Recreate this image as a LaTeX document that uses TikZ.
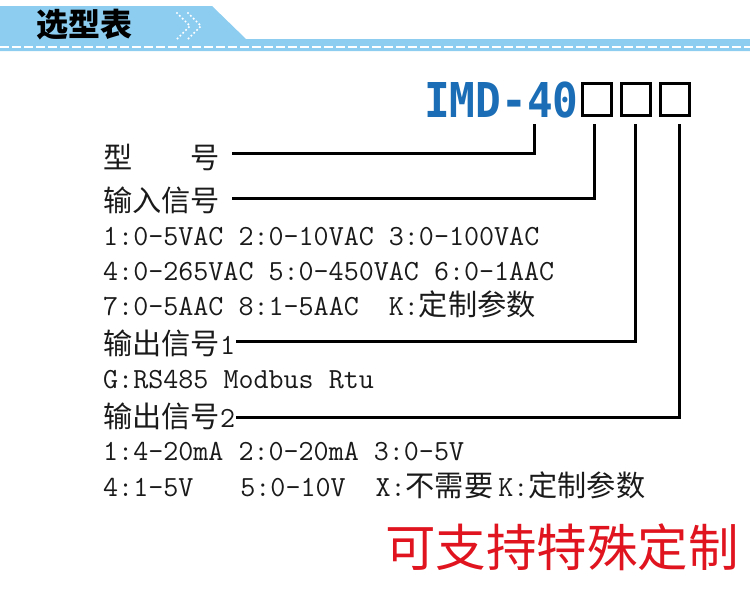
\documentclass[tikz,border=0pt]{standalone}
\usepackage{fontspec}
\usepackage{tikz}
\usetikzlibrary{
  arrows.meta,
  positioning,
  calc
}
\newfontfamily\zhfont{Noto Sans CJK SC}
\newfontfamily\codefont{DejaVu Sans Mono}
\newcommand{\zh}[1]{{\zhfont #1}}
\definecolor{selBand}{HTML}{8DCDF0}
\definecolor{selBlue}{HTML}{1B6EB5}
\definecolor{selRed}{HTML}{E0141E}
\definecolor{selInk}{HTML}{1A1A1A}
\tikzset{
  rowtxt/.style={
    anchor=base west, inner sep=0pt, text=selInk,
    font=\fontsize{29.2}{30}\selectfont\ttfamily
  },
  slot/.style={draw, line width=2.6pt, minimum width=29.4pt, minimum height=32.4pt, inner sep=0pt},
  lead/.style={line width=3pt, black},
  chev/.style={white, line width=2.4pt, dash pattern=on 0pt off 4pt, line cap=round}
}

\begin{document}
\begin{tikzpicture}[x=1pt, y=-1pt, node distance=7pt]
  \useasboundingbox (0,0) rectangle (750,597);
  % header band
  \fill[selBand] (0,6) -- (212,6) -- (246,39) -- (750,39) -- (750,51) -- (0,51) -- cycle;
  \draw[white, line width=1.2pt, dash pattern=on 9pt off 3pt] (0,47) -- (750,47);
  \node[font=\zhfont\bfseries\fontsize{32}{34}\selectfont] (hd) at (84,25) {选型表};
  \draw[chev] (177,13) -- (190,26) -- (177,39);
  \draw[chev] (188,13) -- (201,26) -- (188,39);

  % part number + option slots
  \node[anchor=base west, inner sep=0pt, text=selBlue,
        font=\codefont\bfseries\fontsize{48}{50}\selectfont] (pn) at (424,117) {\scalebox{0.89}[1]{IMD-40}};
  \node[slot] (b1) at (597,99.5) {};
  \node[slot, right=of b1] (b2) {};
  \node[slot, right=of b2] (b3) {};

  % option rows
  \node[rowtxt] (mdl) at (103,168) {\zh{型\quad\quad 号}};
  \node[rowtxt] (inp) at (103,211) {\zh{输入信号}};
  \node[rowtxt] (in1) at (103,245) {1:0-5VAC 2:0-10VAC 3:0-100VAC};
  \node[rowtxt] (in2) at (103,280) {4:0-265VAC 5:0-450VAC 6:0-1AAC};
  \node[rowtxt] (in3) at (103,315) {7:0-5AAC 8:1-5AAC~~K:\zh{定制参数}};
  \node[rowtxt] (out1) at (103,354) {\zh{输出信号}1};
  \node[rowtxt] (bus) at (103,388) {G:RS485 Modbus Rtu};
  \node[rowtxt] (out2) at (103,427) {\zh{输出信号}2};
  \node[rowtxt] (oa) at (103,460) {1:4-20mA 2:0-20mA 3:0-5V};
  \node[rowtxt] (ob) at (103,496) {4:1-5V\hspace{47pt}5:0-10V\hspace{30pt}X:\zh{不需要}\hspace{5pt}K:\zh{定制参数}};

  % leader lines
  \coordinate (m0) at (232,153);
  \coordinate (m1) at (232,198);
  \coordinate (m2) at (236,341);
  \coordinate (m3) at (236,417);
  \coordinate (k0) at (534,124);
  \coordinate (k1) at (594,124);
  \coordinate (k2) at (635,124);
  \coordinate (k3) at (679,124);
  \foreach \s/\e in {m0/k0, m1/k1, m2/k2, m3/k3}{\draw[lead] (\s) -| (\e);}

  \node[text=selRed, font=\zhfont\fontsize{50.5}{52}\selectfont] (ad) at (562,547) {可支持特殊定制};
\end{tikzpicture}
\end{document}
